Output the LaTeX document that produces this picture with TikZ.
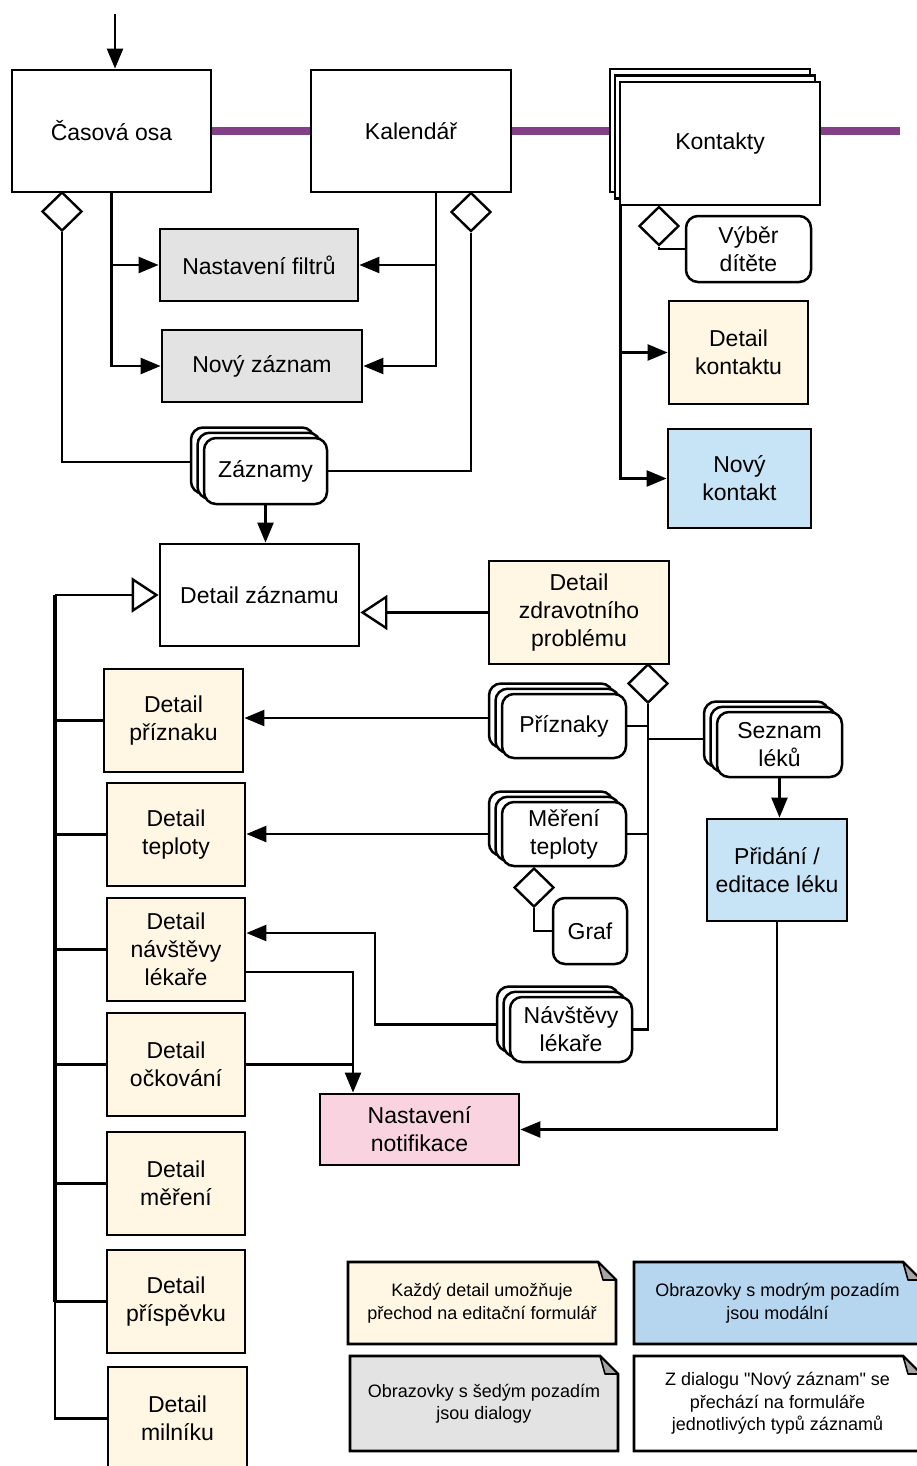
\documentclass[tikz,border=0pt]{standalone}
\usepackage{fontspec}
\setmainfont{Liberation Sans}[Ligatures=TeXOff]
\usetikzlibrary{arrows.meta,shapes.geometric,shadows,calc}

\definecolor{purp}{RGB}{131,64,135}
\definecolor{detyel}{RGB}{255,247,228}
\definecolor{dlggray}{RGB}{227,227,227}
\definecolor{modblue}{RGB}{199,228,246}
\definecolor{noteblue}{RGB}{182,214,240}
\definecolor{notifpink}{RGB}{249,211,223}
\definecolor{foldgray}{RGB}{165,165,165}

\newcommand\mainfs{\fontsize{23}{28}\selectfont}
\newcommand\notefs{\fontsize{18}{22.5}\selectfont}

% note with a folded top-right corner: name, x1, y1, x2, y2, fill, text
\newcommand\drawnote[7]{%
  \draw[line width=2.8pt, fill=#6, line join=miter]
    (#2,#3) -- ({#4-18},#3) -- (#4,{#3+18}) -- (#4,#5) -- (#2,#5) -- cycle;
  \draw[line width=1.6pt, fill=foldgray, line join=round]
    ({#4-18},#3) -- ({#4-13},{#3+18}) -- (#4,{#3+18}) -- cycle;
  \node[notetext] (#1) at ({(#2+#4)/2},{(#3+#5)/2}) {#7};
}

\begin{document}
\begin{tikzpicture}[x=1pt,y=-1pt,
  sz/.style 2 args={minimum width=#1,minimum height=#2},
  plain/.style={draw,line width=2.8pt,fill=white,align=center,inner sep=0pt,font=\mainfs},
  det/.style={plain,fill=detyel},
  dlg/.style={plain,fill=dlggray},
  mod/.style={plain,fill=modblue},
  rnd/.style={draw,line width=2.5pt,fill=white,rounded corners=12pt,align=center,inner sep=0pt,font=\mainfs},
  stackR/.style={
    general shadow={shadow xshift=-13pt,shadow yshift=10.5pt,draw,fill=white,line width=2.5pt},
    general shadow={shadow xshift=-6.5pt,shadow yshift=5.25pt,draw,fill=white,line width=2.5pt}},
  stackK/.style={
    general shadow={shadow xshift=-10pt,shadow yshift=13pt,draw,fill=white,line width=2.5pt},
    general shadow={shadow xshift=-5pt,shadow yshift=6.5pt,draw,fill=white,line width=2.5pt}},
  diam/.style={shape=diamond,draw,fill=white,line width=2.4pt,inner sep=0pt,minimum width=40pt,minimum height=39pt},
  conn/.style={line width=2.4pt},
  arr/.style={conn,-{Triangle[length=20pt,width=16pt]}},
  gen/.style={conn,-{Triangle[open,length=27pt,width=35pt]}},
  purpline/.style={line width=8pt,draw=purp},
  notetext/.style={align=center,inner sep=0pt,font=\notefs},
]
\useasboundingbox (0,0) rectangle (917,1466);

% --- top row of screens
\node[plain, sz={199pt}{122pt}] (cas) at (111.5,131) {Časová osa};
\node[plain, sz={200pt}{122pt}] (kal) at (411,131) {Kalendář};
\node[plain, stackK, sz={200pt}{123pt}] (kon) at (720,143.5) {Kontakty};

% --- dialogs and record list
\node[dlg, sz={198pt}{72pt}] (filtry) at (259,265) {Nastavení filtrů};
\node[dlg, sz={200pt}{72pt}] (novyz) at (262,366) {Nový záznam};
\node[rnd, stackR, sz={123pt}{66pt}] (zaznamy) at (265.5,471) {Záznamy};
\node[plain, sz={199pt}{102pt}] (detz) at (259.5,595) {Detail záznamu};

% --- contacts branch
\node[rnd, sz={125pt}{66pt}] (vyber) at (748.5,249) {Výběr\\dítěte};
\node[det, sz={139pt}{103pt}] (detkont) at (738.5,352.5) {Detail\\kontaktu};
\node[mod, sz={143pt}{99pt}] (novkont) at (739.5,478.5) {Nový\\kontakt};

% --- health problem branch
\node[det, sz={180pt}{103pt}] (zdrav) at (579,612.5) {Detail\\zdravotního\\problému};
\node[rnd, stackR, sz={124pt}{64pt}] (priz) at (564,726) {Příznaky};
\node[rnd, stackR, sz={125pt}{65pt}] (seznam) at (779.5,744.5) {Seznam\\léků};
\node[rnd, stackR, sz={124pt}{64pt}] (mereni) at (564,834) {Měření\\teploty};
\node[rnd, sz={74pt}{66pt}] (graf) at (590,931) {Graf};
\node[rnd, stackR, sz={122pt}{65pt}] (navst) at (571,1029.5) {Návštěvy\\lékaře};
\node[mod, sz={140pt}{102pt}] (pridani) at (777,870) {Přidání /\\editace léku};
\node[plain, fill=notifpink, sz={199pt}{71pt}] (notif) at (419.5,1129.5) {Nastavení\\notifikace};

% --- record detail screens
\node[det, sz={139pt}{103pt}] (dpriz) at (173.5,720.5) {Detail\\příznaku};
\node[det, sz={138pt}{103pt}] (dtep) at (176,834.5) {Detail\\teploty};
\node[det, sz={138pt}{103pt}] (dnav) at (176,949.5) {Detail\\návštěvy\\lékaře};
\node[det, sz={138pt}{103pt}] (dock) at (176,1064.5) {Detail\\očkování};
\node[det, sz={138pt}{103pt}] (dmer) at (176,1183.5) {Detail\\měření};
\node[det, sz={138pt}{103pt}] (dpris) at (176,1301.5) {Detail\\příspěvku};
\node[det, sz={139pt}{103pt}] (dmil) at (177.5,1418.5) {Detail\\milníku};

% --- aggregation diamonds
\node[diam] (dcas) at (62,211.5) {};
\node[diam] (dkal) at (471,212) {};
\node[diam] (dkon) at (659,226) {};
\node[diam] (dzdr) at (648,683.5) {};
\node[diam] (dmt) at (534,887.5) {};

% --- helper points
\coordinate (entry) at (115,14);
\coordinate (pend) at (900,131);
\coordinate (konL) at ([xshift=-10pt]kon.west);
\coordinate (konx) at ([xshift=2pt]kon.south west);
\coordinate (kalx) at ([xshift=25pt]kal.south);
\coordinate (bus) at (55,595);
\coordinate (zazL) at ($(zaznamy.west)+(-13,-9)$);
\coordinate (prizL) at ($(priz.west)+(-13,-8)$);
\coordinate (merL) at ($(mereni.west)+(-13,0)$);
\coordinate (navL) at ($(navst.west)+(-13,-5)$);
\coordinate (sezL) at ($(seznam.west)+(-12,-5.5)$);
\coordinate (navTurn) at (375,933);
\coordinate (dnavR) at ($(dnav.east)+(0,22.5)$);
\coordinate (notX) at (353,972);

% --- entry and navigation bar
\draw[arr] (entry) -- (entry |- cas.north);
\draw[purpline] (cas.east) -- (kal.west);
\draw[purpline] (kal.east) -- (kal.east -| konL);
\draw[purpline] (kon.east |- pend) -- (pend);

% --- timeline and calendar
\draw[arr] (cas.south) |- (novyz.west);
\draw[arr] (cas.south |- filtry.west) -- (filtry.west);
\draw[arr] (kalx) |- (novyz.east);
\draw[arr] (kalx |- filtry.east) -- (filtry.east);
\draw[conn] (dcas.south) |- (zazL);
\draw[conn] (dkal.south) |- (zaznamy.east);
\draw[arr] (zaznamy.south) -- (zaznamy.south |- detz.north);

% --- contacts
\draw[arr] (konx) |- (novkont.west);
\draw[arr] (konx |- detkont.west) -- (detkont.west);
\draw[conn] (dkon.south) |- (vyber.west);

% --- record details generalise the record detail
\foreach \d in {dpriz,dtep,dnav,dock,dmer,dpris,dmil}
  \draw[conn] (\d.west) -| (bus);
\draw[line width=4.5pt] (bus) -- (bus |- dpris.west);
\draw[gen] (bus) -- (detz.west);
\draw[gen] (zdrav.west) -- (zdrav.west -| detz.east);

% --- health problem parts
\draw[conn] (dzdr.south) |- (navst.east);
\draw[conn] (priz.east) -- (priz.east -| dzdr.south);
\draw[conn] (mereni.east) -- (mereni.east -| dzdr.south);
\draw[conn] (dzdr.south |- sezL) -- (sezL);
\draw[conn] (dmt.south) |- (graf.west);
\draw[arr] (prizL) -- (prizL -| dpriz.east);
\draw[arr] (merL) -- (merL -| dtep.east);
\draw[arr] (navL) -| (navTurn) -- (navTurn -| dnav.east);
\draw[arr] (seznam.south) -- (seznam.south |- pridani.north);

% --- notifications
\draw[arr] (dnavR) -| (notX |- notif.north);
\draw[conn] (dock.east) -- (dock.east -| notX);
\draw[arr] (pridani.south) |- (notif.east);

% --- legend notes
\drawnote{n1}{348}{1262}{616}{1344}{detyel}{Každý detail umožňuje\\přechod na editační formulář}
\drawnote{n2}{634}{1262}{921}{1344}{noteblue}{Obrazovky s modrým pozadím\\jsou modální}
\drawnote{n3}{350}{1356}{618}{1451}{dlggray}{Obrazovky s šedým pozadím\\jsou dialogy}
\drawnote{n4}{634}{1356}{921}{1451}{white}{Z dialogu "Nový záznam" se\\přechází na formuláře\\jednotlivých typů záznamů}
\end{tikzpicture}
\end{document}
